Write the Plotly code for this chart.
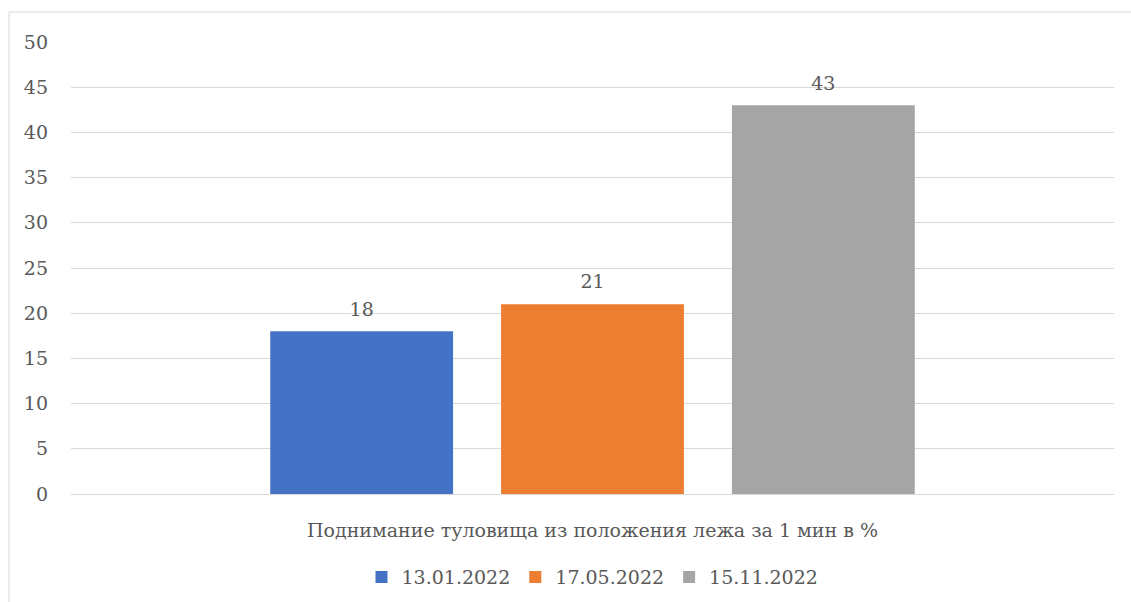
import plotly.graph_objects as go

# Chart data
category = "Поднимание туловища из положения лежа за 1 мин в %"
series_names = ["13.01.2022", "17.05.2022", "15.11.2022"]
series_values = [18, 21, 43]
series_colors = ["#4472C4", "#ED7D31", "#A5A5A5"]
y_ticks = [0, 5, 10, 15, 20, 25, 30, 35, 40, 45, 50]

TEXT = "#595959"
GRID = "#D9D9D9"
FONT = "DejaVu Serif"
SIZE = 19

fig = go.Figure()
for name, val, col in zip(series_names, series_values, series_colors):
    fig.add_trace(go.Bar(
        x=[category], y=[val], name=name, offsetgroup=name,
        marker=dict(color=col, line=dict(width=0)),
        cliponaxis=False,
    ))

# value labels, grouped the same way as the bars
for name, val in zip(series_names, series_values):
    fig.add_trace(go.Scatter(
        x=[category], y=[val], offsetgroup=name, mode="markers+text",
        marker=dict(size=16, opacity=0), text=[str(val)],
        textposition="top center", showlegend=False, hoverinfo="skip",
        textfont=dict(family=FONT, size=SIZE, color=TEXT), cliponaxis=False,
    ))

fig.update_layout(
    width=1131, height=602,
    margin=dict(l=71, r=17, t=42, b=108, autoexpand=False),
    paper_bgcolor="white", plot_bgcolor="white",
    font=dict(family=FONT, size=SIZE, color=TEXT),
    barmode="group", bargap=0.336, bargroupgap=0.208,
    scattermode="group", scattergap=0.336,
    showlegend=True,
    legend=dict(
        orientation="h", x=0.5, xanchor="center", y=-0.184, yanchor="middle",
        font=dict(family=FONT, size=SIZE, color=TEXT),
        itemclick=False, tracegroupgap=0,
    ),
    xaxis=dict(
        type="category", showgrid=False, showline=False, zeroline=False,
        ticks="", ticklabelstandoff=23,
        tickfont=dict(family=FONT, size=SIZE, color=TEXT),
    ),
    yaxis=dict(
        range=[0, 50], tickvals=y_ticks, showgrid=True, gridcolor=GRID,
        gridwidth=1, zeroline=True, zerolinecolor=GRID, zerolinewidth=1,
        showline=False, ticks="", ticklabelstandoff=22,
        tickfont=dict(family=FONT, size=SIZE, color=TEXT),
    ),
    shapes=[dict(
        type="rect", xref="paper", yref="paper",
        x0=-62 / 1043, x1=1.2, y0=-0.5, y1=1 + 30 / 452,
        line=dict(color=GRID, width=1), fillcolor="rgba(0,0,0,0)", layer="below",
    )],
)

fig.write_html("out.html")
